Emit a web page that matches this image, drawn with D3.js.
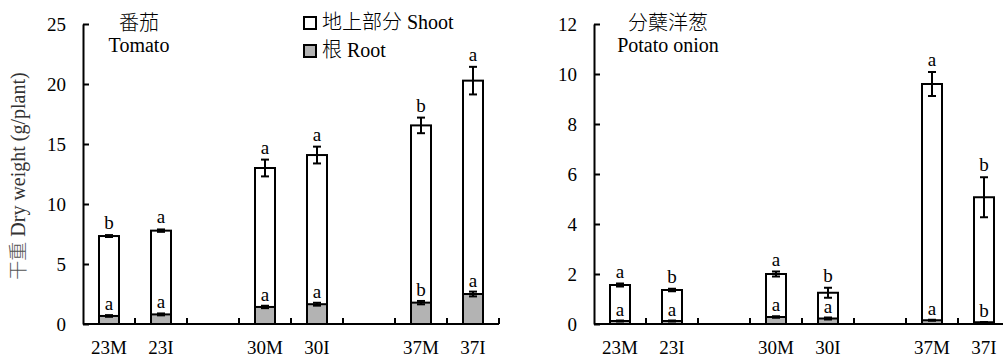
<!DOCTYPE html>
<html>
<head>
<meta charset="utf-8">
<script src="https://cdn.jsdelivr.net/npm/d3@7"></script>
<style>
body { margin: 0; background: #fff; }
svg text { font-family: "Times New Roman", "Liberation Serif", Tinos, serif; fill: #000; }
svg text .cjk, svg text.cjk { font-family: "Noto Sans CJK SC", sans-serif; font-weight: 300; }
</style>
</head>
<body>
<svg id="chart" width="1003" height="359"></svg>
<script>
// categories (blank slots separate the temperature groups)
const categories = ["23M", "23I", "gap1", "30M", "30I", "gap2", "37M", "37I"];
const groups = ["23M", "23I", "30M", "30I", "37M", "37I"];

// tomato
const tomatoShoot = [7.33, 7.78, 13.0, 14.08, 16.55, 20.28];   // total (shoot + root) height
const tomatoShootErr = [0.08, 0.1, 0.7, 0.7, 0.65, 1.15];
const tomatoRoot = [0.67, 0.8, 1.42, 1.65, 1.78, 2.5];
const tomatoRootErr = [0.07, 0.08, 0.1, 0.12, 0.14, 0.2];
const tomatoShootLetters = ["b", "a", "a", "a", "b", "a"];
const tomatoRootLetters = ["a", "a", "a", "a", "b", "a"];
const tomatoTicks = [0, 5, 10, 15, 20, 25];

// potato onion
const onionShoot = [1.56, 1.36, 2.0, 1.25, 9.6, 5.07];
const onionShootErr = [0.06, 0.05, 0.1, 0.2, 0.48, 0.8];
const onionRoot = [0.12, 0.12, 0.28, 0.22, 0.15, 0.07];
const onionRootErr = [0.02, 0.02, 0.03, 0.04, 0.02, 0.01];
const onionShootLetters = ["a", "b", "a", "b", "a", "b"];
const onionRootLetters = ["a", "a", "a", "a", "a", "b"];
const onionTicks = [0, 2, 4, 6, 8, 10, 12];

const serif = "'Times New Roman', 'Liberation Serif', Tinos, serif";
const svg = d3.select("#chart");

function drawPanel(opt){
	let x = d3.scaleBand().domain(categories).range([opt.x0, opt.x0 + 8 * 52]).padding(0);
	let y = d3.scaleLinear().domain([0, opt.max]).range([324, 24]);
	let g = svg.append("g");
	let barW = 20;

	let rows = groups.map((c, i) => ({
		cat: c, shoot: opt.shoot[i], sErr: opt.shootErr[i], root: opt.root[i], rErr: opt.rootErr[i],
		sL: opt.shootLetters[i], rL: opt.rootLetters[i]
	}));
	let cx = d => x(d.cat) + x.bandwidth() / 2;

	// shoot (total) bars
	g.selectAll(".shoot").data(rows).join("rect")
		.attr("x", d => cx(d) - barW / 2).attr("width", barW)
		.attr("y", d => y(d.shoot)).attr("height", d => y(0) - y(d.shoot))
		.attr("fill", "#fff").attr("stroke", "#000").attr("stroke-width", 2);
	// root bars
	g.selectAll(".root").data(rows).join("rect")
		.attr("x", d => cx(d) - barW / 2).attr("width", barW)
		.attr("y", d => y(d.root)).attr("height", d => y(0) - y(d.root))
		.attr("fill", "#b3b3b3").attr("stroke", "#000").attr("stroke-width", 2);

	// error bars
	function errBars(val, err){
		let eg = g.append("g").attr("stroke", "#000").attr("stroke-width", 2);
		eg.selectAll("line.v").data(rows).join("line")
			.attr("x1", cx).attr("x2", cx)
			.attr("y1", d => y(d[val] + d[err])).attr("y2", d => y(d[val] - d[err]));
		eg.selectAll("line.t").data(rows).join("line")
			.attr("x1", d => cx(d) - 4).attr("x2", d => cx(d) + 4)
			.attr("y1", d => y(d[val] + d[err])).attr("y2", d => y(d[val] + d[err]));
		eg.selectAll("line.b").data(rows).join("line")
			.attr("x1", d => cx(d) - 4).attr("x2", d => cx(d) + 4)
			.attr("y1", d => y(d[val] - d[err])).attr("y2", d => y(d[val] - d[err]));
	}
	errBars("shoot", "sErr");
	errBars("root", "rErr");

	// significance letters
	g.selectAll(".sl").data(rows).join("text")
		.attr("x", cx).attr("y", d => y(d.shoot + d.sErr) - 6)
		.attr("text-anchor", "middle").attr("font-size", 19).text(d => d.sL);
	g.selectAll(".rl").data(rows).join("text")
		.attr("x", cx).attr("y", d => y(d.root + d.rErr) - 5)
		.attr("text-anchor", "middle").attr("font-size", 19).text(d => d.rL);

	// y axis
	let ya = g.append("g").attr("transform", "translate(" + opt.x0 + ",0)")
		.call(d3.axisLeft(y).tickValues(opt.ticks).tickSize(-6).tickSizeOuter(0).tickPadding(17));
	ya.attr("font-family", serif);
	ya.select(".domain").attr("stroke-width", 2);
	ya.selectAll(".tick line").attr("stroke-width", 2);
	ya.selectAll(".tick text").attr("font-size", 19);

	// x axis: line + inward ticks at band boundaries
	let xEnd = x.range()[1];
	g.append("line").attr("x1", opt.x0).attr("x2", xEnd).attr("y1", y(0)).attr("y2", y(0))
		.attr("stroke", "#000").attr("stroke-width", 2);
	let bounds = categories.map(c => x(c)).concat([xEnd]).slice(1);
	g.selectAll(".xt").data(bounds).join("line")
		.attr("x1", d => d).attr("x2", d => d).attr("y1", y(0)).attr("y2", y(0) - 6)
		.attr("stroke", "#000").attr("stroke-width", 2);
	g.selectAll(".xl").data(groups).join("text")
		.attr("x", c => x(c) + x.bandwidth() / 2).attr("y", 354)
		.attr("text-anchor", "middle").attr("font-size", 19).text(c => c);

	// titles
	g.append("text").attr("class", "cjk").attr("x", opt.titleX).attr("y", 30)
		.attr("text-anchor", "middle").attr("font-size", 20).text(opt.titleZh);
	g.append("text").attr("x", opt.titleX).attr("y", 52)
		.attr("text-anchor", "middle").attr("font-size", 20).text(opt.titleEn);
}

drawPanel({
	x0: 83, max: 25, ticks: tomatoTicks,
	shoot: tomatoShoot, shootErr: tomatoShootErr, root: tomatoRoot, rootErr: tomatoRootErr,
	shootLetters: tomatoShootLetters, rootLetters: tomatoRootLetters,
	titleX: 139, titleZh: "番茄", titleEn: "Tomato"
});
drawPanel({
	x0: 594, max: 12, ticks: onionTicks,
	shoot: onionShoot, shootErr: onionShootErr, root: onionRoot, rootErr: onionRootErr,
	shootLetters: onionShootLetters, rootLetters: onionRootLetters,
	titleX: 668, titleZh: "分蘖洋葱", titleEn: "Potato onion"
});

// legend
const legendItems = [
	{zh: "地上部分", en: " Shoot", fill: "#fff"},
	{zh: "根", en: " Root", fill: "#b3b3b3"}
];
let lg = svg.append("g").selectAll("g").data(legendItems).join("g")
	.attr("transform", (d, i) => "translate(304," + (17 + i * 28) + ")");
lg.append("rect").attr("width", 12).attr("height", 12)
	.attr("fill", d => d.fill).attr("stroke", "#000").attr("stroke-width", 2);
let lt = lg.append("text").attr("x", 18).attr("y", 12).attr("font-size", 20);
lt.append("tspan").attr("class", "cjk").attr("font-size", 20).text(d => d.zh);
lt.append("tspan").text(d => d.en);

// y axis title
let yt = svg.append("text").attr("transform", "translate(25,176) rotate(-90)")
	.attr("text-anchor", "middle").attr("font-size", 20).style("fill", "#333");
yt.append("tspan").attr("class", "cjk").attr("font-size", 19).style("fill", "#555").text("干重");
yt.append("tspan").style("fill", "#333").text(" Dry weight (g/plant)");
</script>
</body>
</html>
